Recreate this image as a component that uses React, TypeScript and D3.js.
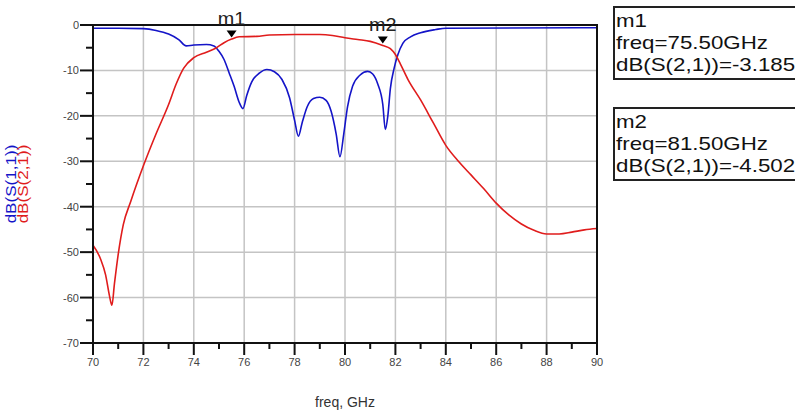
import * as d3 from "d3";

// S-parameter sweep
const freqS11 = [70, 71, 72, 72.5, 73, 73.4, 73.7, 74.0, 74.5, 74.8, 75.0, 75.2, 75.4, 75.6, 75.8, 75.95, 76.1, 76.3, 76.6, 76.9, 77.2, 77.5, 77.8, 78.0, 78.15, 78.3, 78.5, 78.75, 79.0, 79.25, 79.45, 79.65, 79.8, 79.95, 80.1, 80.3, 80.6, 80.9, 81.1, 81.3, 81.5, 81.6, 81.7, 81.8, 81.95, 82.1, 82.3, 82.6, 83.0, 83.6, 84, 90];
const dbS11 = [-0.7, -0.7, -0.8, -1.2, -2.0, -3.2, -4.6, -4.4, -4.3, -4.6, -5.8, -7.6, -10.5, -13.5, -17, -18.4, -15.5, -12.5, -10.6, -9.8, -10.3, -12, -16, -21, -24.5, -21.5, -18, -16.2, -15.9, -16.6, -19, -24, -29, -24, -18, -13.5, -11, -10.2, -10.8, -13, -17.5, -23, -20, -14, -9.5, -6.5, -4.0, -2.6, -1.7, -1.0, -0.7, -0.6];

const freqS21 = [70, 70.3, 70.5, 70.65, 70.75, 70.85, 71.0, 71.2, 71.5, 72.0, 72.5, 73.0, 73.3, 73.6, 74.0, 74.5, 74.9, 75.2, 75.5, 75.8, 76.5, 77.0, 78.0, 79.0, 79.5, 80.0, 80.5, 81.0, 81.5, 81.8, 82.0, 82.2, 82.5, 83.0, 83.5, 84.0, 84.5, 85.0, 85.5, 86.0, 86.5, 87.0, 87.5, 88.0, 88.5, 89.0, 89.5, 90.0];
const dbS21 = [-48.5, -51.5, -55, -59.5, -61.7, -57, -50.5, -44, -38.8, -31, -24, -17.5, -13, -9.5, -7.2, -6.0, -5.0, -3.9, -3.1, -2.6, -2.5, -2.2, -2.1, -2.1, -2.3, -2.8, -3.2, -3.6, -4.5, -5.2, -6.5, -8.6, -12, -16.5, -21.5, -26.5, -30, -33, -36, -39.2, -41.8, -43.8, -45.2, -46, -46, -45.6, -45.1, -44.8];

const xTicks = [70, 72, 74, 76, 78, 80, 82, 84, 86, 88, 90];
const yTicks = [0, -10, -20, -30, -40, -50, -60, -70];

const markerNames = ["m1", "m2"];
const markerFreq = [75.5, 81.5];
const markerDb = [-3.185, -4.502];

export default function App() {
  const width = 795;
  const height = 415;
  const left = 93;
  const right = 597;
  const top = 25;
  const bottom = 343;

  const x = d3.scaleLinear().domain([70, 90]).range([left, right]);
  const y = d3.scaleLinear().domain([0, -70]).range([top, bottom]);

  const line = d3
    .line<[number, number]>()
    .x(d => x(d[0]))
    .y(d => y(d[1]))
    .curve(d3.curveMonotoneX);

  const s11 = freqS11.map((f, i) => [f, dbS11[i]] as [number, number]);
  const s21 = freqS21.map((f, i) => [f, dbS21[i]] as [number, number]);

  const minorX = d3.range(71, 90, 2);
  const minorY = d3.range(-5, -70, -10);

  const tickFont = "'Liberation Sans', Arial, sans-serif";

  return (
    <svg
      width={width}
      height={height}
      style={{ position: "absolute", left: 0, top: 0, background: "#fff" }}
    >
      {/* grid */}
      {xTicks.map(t => (
        <line key={"gx" + t} x1={x(t)} x2={x(t)} y1={top} y2={bottom} stroke="#c4c4c4" strokeWidth={1.5} />
      ))}
      {yTicks.map(t => (
        <line key={"gy" + t} x1={left} x2={right} y1={y(t)} y2={y(t)} stroke="#c4c4c4" strokeWidth={1.5} />
      ))}

      {/* traces */}
      <path d={line(s11) ?? ""} fill="none" stroke="#1414c8" strokeWidth={1.6} />
      <path d={line(s21) ?? ""} fill="none" stroke="#e01c1c" strokeWidth={1.6} />

      {/* frame */}
      <rect x={left} y={top} width={right - left} height={bottom - top} fill="none" stroke="#111" strokeWidth={2} />

      {/* x axis ticks */}
      {xTicks.map(t => (
        <g key={"xt" + t}>
          <line x1={x(t)} x2={x(t)} y1={bottom} y2={bottom + 12} stroke="#111" strokeWidth={2} />
          <text x={x(t)} y={bottom + 23} textAnchor="middle" fontSize={11} fill="#444" fontFamily={tickFont}>
            {t}
          </text>
        </g>
      ))}
      {minorX.map(t => (
        <line key={"mx" + t} x1={x(t)} x2={x(t)} y1={bottom} y2={bottom + 6} stroke="#111" strokeWidth={2} />
      ))}

      {/* y axis ticks */}
      {yTicks.map(t => (
        <g key={"yt" + t}>
          <line x1={left - 13} x2={left} y1={y(t)} y2={y(t)} stroke="#111" strokeWidth={2} />
          <text x={left - 14} y={y(t) + 4} textAnchor="end" fontSize={11} fill="#444" fontFamily={tickFont}>
            {t}
          </text>
        </g>
      ))}
      {minorY.map(t => (
        <line key={"my" + t} x1={left - 7} x2={left} y1={y(t)} y2={y(t)} stroke="#111" strokeWidth={2} />
      ))}

      {/* axis titles */}
      <text x={(left + right) / 2} y={407} textAnchor="middle" fontSize={14} fill="#333" fontFamily={tickFont}>
        freq, GHz
      </text>
      <g transform={`translate(16, ${(top + bottom) / 2}) rotate(-90) scale(1.22, 1)`} fontFamily={tickFont} fontSize={14}>
        <text x={0} y={0} textAnchor="middle" fill="#1414c8">
          dB(S(1,1))
        </text>
        <text x={0} y={12} textAnchor="middle" fill="#e01c1c">
          dB(S(2,1))
        </text>
      </g>

      {/* markers */}
      {markerNames.map((m, i) => {
        const px = x(markerFreq[i]);
        const py = y(markerDb[i]) - 2;
        return (
          <g key={m}>
            <path d={`M${px - 5},${py - 7} L${px + 5},${py - 7} L${px},${py} Z`} fill="#000" />
            <g transform={`translate(${px}, ${py - 12}) scale(1.1, 1)`}>
              <text x={0} y={0} textAnchor="middle" fontSize={18} fill="#222" fontFamily={tickFont}>
                {m}
              </text>
            </g>
          </g>
        );
      })}

      {/* marker readouts */}
      {markerNames.map((m, i) => {
        const by = 7 + i * 101;
        return (
          <g key={"box" + m}>
            <rect x={614} y={by} width={200} height={72} fill="#fff" stroke="#222" strokeWidth={2} />
            <g transform={`translate(616, ${by}) scale(1.24, 1)`} fontFamily={tickFont} fontSize={18} fill="#111">
              <text x={0} y={20}>{m}</text>
              <text x={0} y={42}>{`freq=${markerFreq[i].toFixed(2)}GHz`}</text>
              <text x={0} y={64}>{`dB(S(2,1))=${markerDb[i].toFixed(3)}`}</text>
            </g>
          </g>
        );
      })}
    </svg>
  );
}
